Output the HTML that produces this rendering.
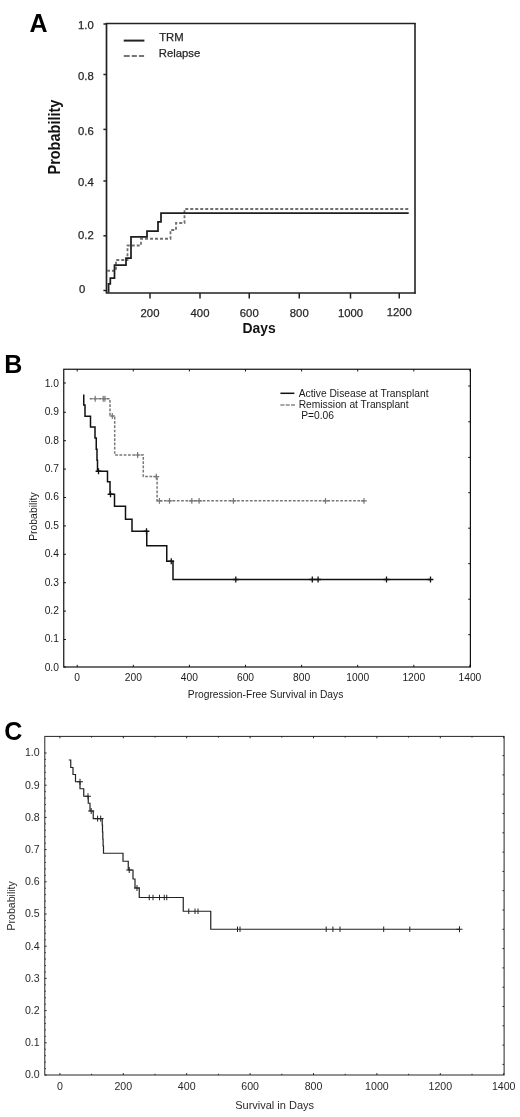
<!DOCTYPE html>
<html lang="en">
<head>
<meta charset="utf-8">
<title>Figure: TRM, Relapse, Progression-Free Survival and Survival</title>
<style>
html,body{margin:0;padding:0;background:#fff;}
body{width:520px;height:1117px;overflow:hidden;}
svg{display:block;}
text{font-family:"Liberation Sans",sans-serif;}
.pl{font-weight:bold;font-size:25px;fill:#000;}
.a-t{font-size:11.3px;fill:#262626;stroke:#262626;stroke-width:0.25px;}
.a-b{font-weight:bold;fill:#111;}
.b-t{font-size:10.25px;fill:#1a1a1a;}
.c-t{font-size:10.6px;fill:#2a2a2a;}
.ax{fill:none;stroke:#222;}
.mk{fill:none;stroke:#111;stroke-width:1;}
.mkg{fill:none;stroke:#777;stroke-width:1.2;}
.mkb{fill:none;stroke:#111;stroke-width:1.3;}
.mkc{fill:none;stroke:#222;stroke-width:1;}
</style>
</head>
<body>
<svg width="520" height="1117" viewBox="0 0 520 1117">
<rect x="0" y="0" width="520" height="1117" fill="#ffffff"/>

<g id="panelA">
<text class="pl" x="29.5" y="32">A</text>
<path class="ax" stroke-width="1.7" d="M106.5,23V293.8M105.7,293H415.6"/>
<path class="ax" stroke-width="1.3" d="M105.7,23.5H415.6"/><path class="ax" stroke-width="1.6" d="M415,23V293.8"/>
<path class="ax" stroke-width="1.5" d="M103.4,24H106"/>
<path class="ax" stroke-width="1.5" d="M103.4,74.5H106"/>
<path class="ax" stroke-width="1.5" d="M103.4,129.4H106"/>
<path class="ax" stroke-width="1.5" d="M103.4,181H106"/>
<path class="ax" stroke-width="1.5" d="M103.4,235.8H106"/>
<path class="ax" stroke-width="1.5" d="M103.4,290.5H106"/>
<text class="a-t" x="93.75" y="29" text-anchor="end">1.0</text>
<text class="a-t" x="93.75" y="80.25" text-anchor="end">0.8</text>
<text class="a-t" x="93.75" y="134.5" text-anchor="end">0.6</text>
<text class="a-t" x="93.75" y="186" text-anchor="end">0.4</text>
<text class="a-t" x="93.75" y="238.8" text-anchor="end">0.2</text>
<text class="a-t" x="85.3" y="293" text-anchor="end">0</text>
<path class="ax" stroke-width="1.5" d="M150,293V298.6"/>
<text class="a-t" x="150" y="317.25" text-anchor="middle">200</text>
<path class="ax" stroke-width="1.5" d="M200,293V298.6"/>
<text class="a-t" x="200" y="317.25" text-anchor="middle">400</text>
<path class="ax" stroke-width="1.5" d="M249.25,293V298.6"/>
<text class="a-t" x="249.25" y="317.25" text-anchor="middle">600</text>
<path class="ax" stroke-width="1.5" d="M299.25,293V298.6"/>
<text class="a-t" x="299.25" y="317.25" text-anchor="middle">800</text>
<path class="ax" stroke-width="1.5" d="M350.5,293V298.6"/>
<text class="a-t" x="350.5" y="317.25" text-anchor="middle">1000</text>
<path class="ax" stroke-width="1.5" d="M399.25,293V298.6"/>
<text class="a-t" x="399.25" y="316.2" text-anchor="middle">1200</text>
<text class="a-b" font-size="13.9" x="259.2" y="333" text-anchor="middle">Days</text>
<text class="a-b" font-size="15.6" transform="translate(60.4,137.1) rotate(-90) scale(0.93,1)" text-anchor="middle">Probability</text>
<path class="ax" stroke-width="2" d="M123.7,40.6H144.4"/>
<path fill="none" stroke="#777" stroke-width="2" stroke-dasharray="6 2 5.2 2 5.2 2" d="M123.7,55.9H144.4"/>
<text class="a-t" x="159.2" y="41.1">TRM</text>
<text class="a-t" x="158.8" y="56.6">Relapse</text>
<path fill="none" stroke="#707070" stroke-width="1.8" stroke-dasharray="3 2" d="M107,270.75H116V260H127.5V245.5H141V238.75H170.5V230H176V223H184.5V209H408.7"/>
<path fill="none" stroke="#1e1e1e" stroke-width="1.75" stroke-linejoin="miter" d="M108.6,292.5V283.9H110.3V278H114.5V265H126V258H131V236.75H147V231H158V221.75H161V213H408.7"/>
</g>
<g id="panelB">
<text class="pl" x="4.2" y="372.8">B</text>
<rect x="63.75" y="369.25" width="406.65" height="297.75" fill="none" stroke="#111" stroke-width="1.2"/>
<path class="mk" d="M63.75,667.00H65.95"/>
<text class="b-t" x="58.9" y="670.70" text-anchor="end">0.0</text>
<path class="mk" d="M63.75,639.50H65.95"/>
<text class="b-t" x="58.9" y="642.30" text-anchor="end">0.1</text>
<path class="mk" d="M63.75,611.10H65.95"/>
<text class="b-t" x="58.9" y="613.90" text-anchor="end">0.2</text>
<path class="mk" d="M63.75,582.70H65.95"/>
<text class="b-t" x="58.9" y="585.50" text-anchor="end">0.3</text>
<path class="mk" d="M63.75,554.30H65.95"/>
<text class="b-t" x="58.9" y="557.10" text-anchor="end">0.4</text>
<path class="mk" d="M63.75,525.90H65.95"/>
<text class="b-t" x="58.9" y="528.70" text-anchor="end">0.5</text>
<path class="mk" d="M63.75,497.50H65.95"/>
<text class="b-t" x="58.9" y="500.30" text-anchor="end">0.6</text>
<path class="mk" d="M63.75,469.10H65.95"/>
<text class="b-t" x="58.9" y="471.90" text-anchor="end">0.7</text>
<path class="mk" d="M63.75,440.70H65.95"/>
<text class="b-t" x="58.9" y="443.50" text-anchor="end">0.8</text>
<path class="mk" d="M63.75,412.30H65.95"/>
<text class="b-t" x="58.9" y="415.10" text-anchor="end">0.9</text>
<path class="mk" d="M63.75,383.00H65.95"/>
<text class="b-t" x="58.9" y="386.70" text-anchor="end">1.0</text>
<path class="mk" d="M470.4,386H468.2"/>
<path class="mk" d="M470.4,421.8H468.2"/>
<path class="mk" d="M470.4,457.4H468.2"/>
<path class="mk" d="M470.4,492.7H468.2"/>
<path class="mk" d="M470.4,528.2H468.2"/>
<path class="mk" d="M470.4,563.7H468.2"/>
<path class="mk" d="M470.4,599.2H468.2"/>
<path class="mk" d="M470.4,634.7H468.2"/>
<path class="mk" d="M77.20,667.0V664.8M77.20,369.25V371.45"/>
<text class="b-t" x="77.20" y="680.7" text-anchor="middle">0</text>
<path class="mk" d="M133.30,667.0V664.8M133.30,369.25V371.45"/>
<text class="b-t" x="133.30" y="680.7" text-anchor="middle">200</text>
<path class="mk" d="M189.40,667.0V664.8M189.40,369.25V371.45"/>
<text class="b-t" x="189.40" y="680.7" text-anchor="middle">400</text>
<path class="mk" d="M245.50,667.0V664.8M245.50,369.25V371.45"/>
<text class="b-t" x="245.50" y="680.7" text-anchor="middle">600</text>
<path class="mk" d="M301.60,667.0V664.8M301.60,369.25V371.45"/>
<text class="b-t" x="301.60" y="680.7" text-anchor="middle">800</text>
<path class="mk" d="M357.70,667.0V664.8M357.70,369.25V371.45"/>
<text class="b-t" x="357.70" y="680.7" text-anchor="middle">1000</text>
<path class="mk" d="M413.80,667.0V664.8M413.80,369.25V371.45"/>
<text class="b-t" x="413.80" y="680.7" text-anchor="middle">1200</text>
<path class="mk" d="M469.90,667.0V664.8M469.90,369.25V371.45"/>
<text class="b-t" x="469.90" y="680.7" text-anchor="middle">1400</text>
<text class="b-t" x="187.8" y="698">Progression-Free Survival in Days</text>
<text class="b-t" style="font-size:10.4px" transform="translate(36.8,516.6) rotate(-90)" text-anchor="middle">Probability</text>
<path fill="none" stroke="#111" stroke-width="1.5" d="M280.4,393.3H294.4"/>
<path fill="none" stroke="#888" stroke-width="1.3" stroke-dasharray="4 1.3" d="M280.4,405H295.3"/>
<text class="b-t" x="298.7" y="396.5">Active Disease at Transplant</text>
<text class="b-t" x="298.7" y="407.7">Remission at Transplant</text>
<text class="b-t" x="301.2" y="418.7">P=0.06</text>
<path fill="none" stroke="#777" stroke-width="1.5" stroke-dasharray="2.7 1.6" d="M89.7,398.75H110V416H114.7V455H143.3V476.6H157.1V500.8H364"/>
<path class="mkg" d="M92.3,398.75H98.10000000000001M95.2,395.85V401.65"/>
<path class="mkg" d="M100.3,398.75H106.10000000000001M103.2,395.85V401.65"/>
<path class="mkg" d="M102.0,398.75H107.80000000000001M104.9,395.85V401.65"/>
<path class="mkg" d="M109.39999999999999,416H115.2M112.3,413.1V418.9"/>
<path class="mkg" d="M134.7,455H140.5M137.6,452.1V457.9"/>
<path class="mkg" d="M153.4,476.6H159.20000000000002M156.3,473.70000000000005V479.5"/>
<path class="mkg" d="M156.5,500.8H162.3M159.4,497.90000000000003V503.7"/>
<path class="mkg" d="M166.6,500.8H172.4M169.5,497.90000000000003V503.7"/>
<path class="mkg" d="M188.9,500.8H194.70000000000002M191.8,497.90000000000003V503.7"/>
<path class="mkg" d="M196.2,500.8H202.0M199.1,497.90000000000003V503.7"/>
<path class="mkg" d="M230.5,500.8H236.3M233.4,497.90000000000003V503.7"/>
<path class="mkg" d="M322.6,500.8H328.4M325.5,497.90000000000003V503.7"/>
<path class="mkg" d="M361.1,500.8H366.9M364,497.90000000000003V503.7"/>
<path fill="none" stroke="#111" stroke-width="1.5" d="M83.75,394.5V405H85V416.25H90.5V427H95V438H96.25V449.25H97V460.2H97.5V471.25H107.5V481.75H110V494.25H114.5V506.25H125.5V519.25H132V531.25H146.75V545.75H166.75V561.25H173V579.5H430.5"/>
<path class="mkb" d="M95.6,471.25H101.4M98.5,468.35V474.15"/>
<path class="mkb" d="M107.6,494.25H113.4M110.5,491.35V497.15"/>
<path class="mkb" d="M143.6,531.25H149.4M146.5,528.35V534.15"/>
<path class="mkb" d="M168.35,561.25H174.15M171.25,558.35V564.15"/>
<path class="mkb" d="M232.9,579.5H238.70000000000002M235.8,576.6V582.4"/>
<path class="mkb" d="M309.40000000000003,579.5H315.2M312.3,576.6V582.4"/>
<path class="mkb" d="M315.20000000000005,579.5H321.0M318.1,576.6V582.4"/>
<path class="mkb" d="M383.6,579.5H389.4M386.5,576.6V582.4"/>
<path class="mkb" d="M427.6,579.5H433.4M430.5,576.6V582.4"/>
</g>
<g id="panelC">
<text class="pl" x="4.3" y="739.9">C</text>
<rect x="44.8" y="736.4" width="459.3" height="338.6" fill="none" stroke="#262626" stroke-width="1"/>
<path class="mkc" d="M44.8,1075.00H46.599999999999994"/>
<text class="c-t" x="39.7" y="1078.40" text-anchor="end">0.0</text>
<path class="mkc" d="M44.8,1042.80H46.599999999999994"/>
<text class="c-t" x="39.7" y="1046.20" text-anchor="end">0.1</text>
<path class="mkc" d="M44.8,1010.60H46.599999999999994"/>
<text class="c-t" x="39.7" y="1014.00" text-anchor="end">0.2</text>
<path class="mkc" d="M44.8,978.40H46.599999999999994"/>
<text class="c-t" x="39.7" y="981.80" text-anchor="end">0.3</text>
<path class="mkc" d="M44.8,946.20H46.599999999999994"/>
<text class="c-t" x="39.7" y="949.60" text-anchor="end">0.4</text>
<path class="mkc" d="M44.8,914.00H46.599999999999994"/>
<text class="c-t" x="39.7" y="917.40" text-anchor="end">0.5</text>
<path class="mkc" d="M44.8,881.80H46.599999999999994"/>
<text class="c-t" x="39.7" y="885.20" text-anchor="end">0.6</text>
<path class="mkc" d="M44.8,849.60H46.599999999999994"/>
<text class="c-t" x="39.7" y="853.00" text-anchor="end">0.7</text>
<path class="mkc" d="M44.8,817.40H46.599999999999994"/>
<text class="c-t" x="39.7" y="820.80" text-anchor="end">0.8</text>
<path class="mkc" d="M44.8,785.20H46.599999999999994"/>
<text class="c-t" x="39.7" y="788.60" text-anchor="end">0.9</text>
<path class="mkc" d="M44.8,753.00H46.599999999999994"/>
<text class="c-t" x="39.7" y="756.40" text-anchor="end">1.0</text>
<path class="mkc" d="M504.1,755.60H502.5"/>
<path class="mkc" d="M504.1,774.90H502.5"/>
<path class="mkc" d="M504.1,794.20H502.5"/>
<path class="mkc" d="M504.1,813.50H502.5"/>
<path class="mkc" d="M504.1,832.80H502.5"/>
<path class="mkc" d="M504.1,852.10H502.5"/>
<path class="mkc" d="M504.1,871.40H502.5"/>
<path class="mkc" d="M504.1,890.70H502.5"/>
<path class="mkc" d="M504.1,910.00H502.5"/>
<path class="mkc" d="M504.1,929.30H502.5"/>
<path class="mkc" d="M504.1,948.60H502.5"/>
<path class="mkc" d="M504.1,967.90H502.5"/>
<path class="mkc" d="M504.1,987.20H502.5"/>
<path class="mkc" d="M504.1,1006.50H502.5"/>
<path class="mkc" d="M504.1,1025.80H502.5"/>
<path class="mkc" d="M504.1,1045.10H502.5"/>
<path class="mkc" d="M504.1,1064.40H502.5"/>
<path class="mkc" stroke-width="0.8" d="M44.8,1068.56H45.8"/>
<path class="mkc" stroke-width="0.8" d="M44.8,1062.12H45.8"/>
<path class="mkc" stroke-width="0.8" d="M44.8,1055.68H45.8"/>
<path class="mkc" stroke-width="0.8" d="M44.8,1049.24H45.8"/>
<path class="mkc" stroke-width="0.8" d="M44.8,1036.36H45.8"/>
<path class="mkc" stroke-width="0.8" d="M44.8,1029.92H45.8"/>
<path class="mkc" stroke-width="0.8" d="M44.8,1023.48H45.8"/>
<path class="mkc" stroke-width="0.8" d="M44.8,1017.04H45.8"/>
<path class="mkc" stroke-width="0.8" d="M44.8,1004.16H45.8"/>
<path class="mkc" stroke-width="0.8" d="M44.8,997.72H45.8"/>
<path class="mkc" stroke-width="0.8" d="M44.8,991.28H45.8"/>
<path class="mkc" stroke-width="0.8" d="M44.8,984.84H45.8"/>
<path class="mkc" stroke-width="0.8" d="M44.8,971.96H45.8"/>
<path class="mkc" stroke-width="0.8" d="M44.8,965.52H45.8"/>
<path class="mkc" stroke-width="0.8" d="M44.8,959.08H45.8"/>
<path class="mkc" stroke-width="0.8" d="M44.8,952.64H45.8"/>
<path class="mkc" stroke-width="0.8" d="M44.8,939.76H45.8"/>
<path class="mkc" stroke-width="0.8" d="M44.8,933.32H45.8"/>
<path class="mkc" stroke-width="0.8" d="M44.8,926.88H45.8"/>
<path class="mkc" stroke-width="0.8" d="M44.8,920.44H45.8"/>
<path class="mkc" stroke-width="0.8" d="M44.8,907.56H45.8"/>
<path class="mkc" stroke-width="0.8" d="M44.8,901.12H45.8"/>
<path class="mkc" stroke-width="0.8" d="M44.8,894.68H45.8"/>
<path class="mkc" stroke-width="0.8" d="M44.8,888.24H45.8"/>
<path class="mkc" stroke-width="0.8" d="M44.8,875.36H45.8"/>
<path class="mkc" stroke-width="0.8" d="M44.8,868.92H45.8"/>
<path class="mkc" stroke-width="0.8" d="M44.8,862.48H45.8"/>
<path class="mkc" stroke-width="0.8" d="M44.8,856.04H45.8"/>
<path class="mkc" stroke-width="0.8" d="M44.8,843.16H45.8"/>
<path class="mkc" stroke-width="0.8" d="M44.8,836.72H45.8"/>
<path class="mkc" stroke-width="0.8" d="M44.8,830.28H45.8"/>
<path class="mkc" stroke-width="0.8" d="M44.8,823.84H45.8"/>
<path class="mkc" stroke-width="0.8" d="M44.8,810.96H45.8"/>
<path class="mkc" stroke-width="0.8" d="M44.8,804.52H45.8"/>
<path class="mkc" stroke-width="0.8" d="M44.8,798.08H45.8"/>
<path class="mkc" stroke-width="0.8" d="M44.8,791.64H45.8"/>
<path class="mkc" stroke-width="0.8" d="M44.8,778.76H45.8"/>
<path class="mkc" stroke-width="0.8" d="M44.8,772.32H45.8"/>
<path class="mkc" stroke-width="0.8" d="M44.8,765.88H45.8"/>
<path class="mkc" stroke-width="0.8" d="M44.8,759.44H45.8"/>
<path class="mkc" d="M59.90,1075.0V1073.1M59.90,736.4V738.3"/>
<text class="c-t" x="59.90" y="1090.1" text-anchor="middle">0</text>
<path class="mkc" d="M91.60,1075.0V1073.8M91.60,736.4V737.6"/>
<path class="mkc" d="M123.30,1075.0V1073.1M123.30,736.4V738.3"/>
<text class="c-t" x="123.30" y="1090.1" text-anchor="middle">200</text>
<path class="mkc" d="M155.00,1075.0V1073.8M155.00,736.4V737.6"/>
<path class="mkc" d="M186.70,1075.0V1073.1M186.70,736.4V738.3"/>
<text class="c-t" x="186.70" y="1090.1" text-anchor="middle">400</text>
<path class="mkc" d="M218.40,1075.0V1073.8M218.40,736.4V737.6"/>
<path class="mkc" d="M250.10,1075.0V1073.1M250.10,736.4V738.3"/>
<text class="c-t" x="250.10" y="1090.1" text-anchor="middle">600</text>
<path class="mkc" d="M281.80,1075.0V1073.8M281.80,736.4V737.6"/>
<path class="mkc" d="M313.50,1075.0V1073.1M313.50,736.4V738.3"/>
<text class="c-t" x="313.50" y="1090.1" text-anchor="middle">800</text>
<path class="mkc" d="M345.20,1075.0V1073.8M345.20,736.4V737.6"/>
<path class="mkc" d="M376.90,1075.0V1073.1M376.90,736.4V738.3"/>
<text class="c-t" x="376.90" y="1090.1" text-anchor="middle">1000</text>
<path class="mkc" d="M408.60,1075.0V1073.8M408.60,736.4V737.6"/>
<path class="mkc" d="M440.30,1075.0V1073.1M440.30,736.4V738.3"/>
<text class="c-t" x="440.30" y="1090.1" text-anchor="middle">1200</text>
<path class="mkc" d="M472.00,1075.0V1073.8M472.00,736.4V737.6"/>
<path class="mkc" d="M503.70,1075.0V1073.1M503.70,736.4V738.3"/>
<text class="c-t" x="503.70" y="1090.1" text-anchor="middle">1400</text>
<text class="c-t" style="font-size:11px" x="235.2" y="1109.4">Survival in Days</text>
<text class="c-t" style="font-size:10.55px" transform="translate(15.2,905.8) rotate(-90)" text-anchor="middle">Probability</text>
<path fill="none" stroke="#222" stroke-width="1.2" d="M68.75,760H70.75V767.5H73V774.5H75.5V781.75H80V788.75H83.75V796.25H88.25V803.25H90V811H93.25V818.6H102.2V825H102.5V832H102.8V839H103.1V846H103.5V853.25H123V861.25H128.25V870H133V879H135V888H139.25V897.5H183.25V911.25H210.75V929.25H459.5"/>
<path class="mkc" d="M77,781.75H83M80,778.75V784.75"/>
<path class="mkc" d="M85,796.25H91M88,793.25V799.25"/>
<path class="mkc" d="M88.2,811H94.2M91.2,808V814"/>
<path class="mkc" d="M94.6,818.6H100.6M97.6,815.6V821.6"/>
<path class="mkc" d="M97.7,818.6H103.7M100.7,815.6V821.6"/>
<path class="mkc" d="M126.25,870H132.25M129.25,867V873"/>
<path class="mkc" d="M134,888H140M137,885V891"/>
<path class="mkc" d="M456.5,929.25H462.5M459.5,926.25V932.25"/>
<path class="mkc" d="M149.25,894.75V900.25"/>
<path class="mkc" d="M153,894.75V900.25"/>
<path class="mkc" d="M159.5,894.75V900.25"/>
<path class="mkc" d="M164.25,894.75V900.25"/>
<path class="mkc" d="M166.75,894.75V900.25"/>
<path class="mkc" d="M188.75,908.5V914.0"/>
<path class="mkc" d="M195,908.5V914.0"/>
<path class="mkc" d="M198,908.5V914.0"/>
<path class="mkc" d="M237.5,926.5V932.0"/>
<path class="mkc" d="M240,926.5V932.0"/>
<path class="mkc" d="M326.2,926.5V932.0"/>
<path class="mkc" d="M332.9,926.5V932.0"/>
<path class="mkc" d="M340,926.5V932.0"/>
<path class="mkc" d="M383.7,926.5V932.0"/>
<path class="mkc" d="M409.8,926.5V932.0"/>
</g>
</svg>
</body>
</html>
